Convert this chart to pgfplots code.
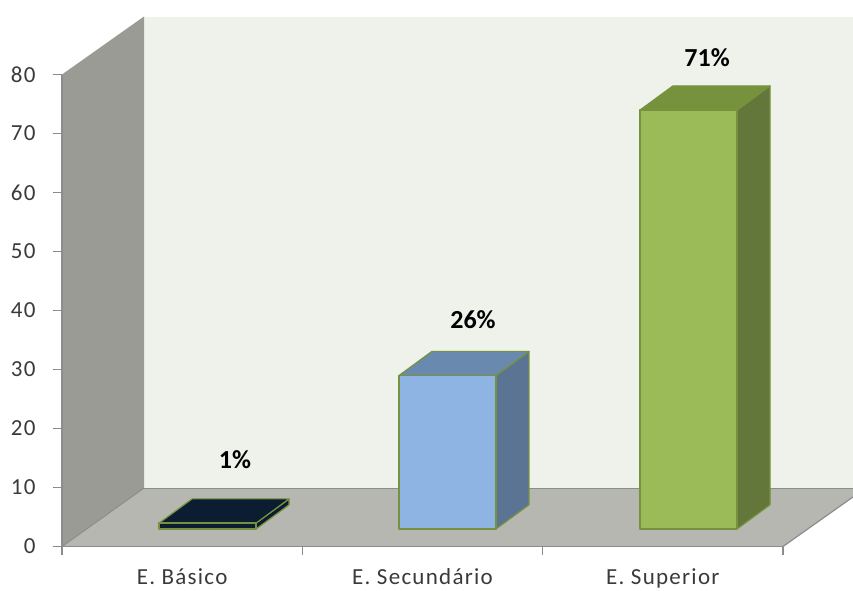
\documentclass[border=0pt]{standalone}
\usepackage{pgfplots}
\pgfplotsset{compat=1.18}
\usepackage{fontspec}
\setmainfont{Carlito}
\newfontfamily\ticksfont[LetterSpace=5.5]{Carlito}

\definecolor{wallback}{HTML}{EFF2EB}
\definecolor{wallside}{HTML}{999B94}
\definecolor{floorgrey}{HTML}{B5B7B0}
\definecolor{axisgrey}{HTML}{8C8C8C}
\definecolor{stubgrey}{HTML}{7A7A7A}
\definecolor{edgegreen}{HTML}{76923C}
\definecolor{txt}{HTML}{3A3A3A}
\definecolor{navy}{HTML}{0C1C31}
\definecolor{bluefront}{HTML}{8DB4E2}
\definecolor{bluetop}{HTML}{6A89AE}
\definecolor{blueside}{HTML}{5B7494}
\definecolor{greenfront}{HTML}{9BBB59}
\definecolor{greentop}{HTML}{76923C}
\definecolor{greenside}{HTML}{64773A}

% Depth of the bars, in axis units
\def\barw{0.4036}
\def\bardx{0.1373}
\def\bardy{4.1}
\def\barbase{2.97}
\def\edgew{2pt}

% \threedbar{left x}{value}{front}{top}{side}{edge}
\newcommand{\threedbar}[6]{%
  \pgfmathsetmacro{\xa}{#1}%
  \pgfmathsetmacro{\xb}{#1+\barw}%
  \pgfmathsetmacro{\xc}{#1+\barw+\bardx}%
  \pgfmathsetmacro{\xd}{#1+\bardx}%
  \pgfmathsetmacro{\yb}{\barbase}%
  \pgfmathsetmacro{\yt}{\barbase+#2}%
  \pgfmathsetmacro{\ybb}{\barbase+\bardy}%
  \pgfmathsetmacro{\ytt}{\barbase+#2+\bardy}%
  \addplot[fill=#5,draw=#6,line width=\edgew,line join=round] coordinates
    {(\xb,\yb) (\xc,\ybb) (\xc,\ytt) (\xb,\yt)} -- cycle;
  \addplot[fill=#4,draw=#6,line width=\edgew,line join=round] coordinates
    {(\xa,\yt) (\xb,\yt) (\xc,\ytt) (\xd,\ytt)} -- cycle;
  \addplot[fill=#3,draw=#6,line width=\edgew,line join=round] coordinates
    {(\xa,\yb) (\xb,\yb) (\xb,\yt) (\xa,\yt)} -- cycle;
}

\begin{document}
\begin{tikzpicture}
\path[use as bounding box] (0pt,0pt) rectangle (853pt,590pt);
\begin{axis}[
  at={(62pt,43.5pt)}, anchor=south west,
  scale only axis, width=721pt, height=472pt,
  xmin=0, xmax=3, ymin=0, ymax=80,
  clip=false, axis on top,
  axis x line*=bottom, axis y line*=left,
  axis line style={axisgrey,line width=1.2pt,-},
  tick style={draw=axisgrey,line width=1.2pt},
  tick align=outside,
  major tick length=8pt,
  xtick={0,1,2,3},
  x tick label as interval,
  xticklabels={E. Básico,E. Secundário,E. Superior},
  ytick={0,10,20,30,40,50,60,70,80},
  /pgf/number format/assume math mode=true,
  tick label style={font=\ticksfont\fontsize{23}{27}\selectfont,text=txt},
  xticklabel style={anchor=base,yshift=-30pt},
  yticklabel style={xshift=-15pt},
]
% chart box: back wall, side wall and floor
\addplot[fill=wallback,draw=none] coordinates
  {(0.3412,9.915) (3.2913,9.915) (3.2913,89.83) (0.3412,89.83)} -- cycle;
\addplot[fill=wallside,draw=none] coordinates
  {(0,0) (0.3412,9.915) (0.3412,89.83) (0,80)} -- cycle;
\addplot[fill=floorgrey,draw=none] coordinates
  {(0,0) (3,0) (3.2913,8.4) (3.2913,9.915) (0.3412,9.915)} -- cycle;
\addplot[axisgrey,line width=1pt] coordinates {(0.3412,9.915) (3.2913,9.915)};
\addplot[axisgrey,line width=1pt] coordinates {(0,0) (0.3412,9.915)};
\addplot[axisgrey,line width=1.2pt] coordinates {(3,0) (3.2913,8.4)};

% tick stubs on the value axis
\pgfplotsinvokeforeach{0,10,20,30,40,50,60,70,80}{
  \addplot[stubgrey,line width=1.6pt] coordinates {(-0.0375,#1) (0,#1)};
}

% bars
\threedbar{0.404}{1}{navy}{navy}{navy}{edgegreen}
\threedbar{1.402}{26}{bluefront}{bluetop}{blueside}{edgegreen}
\def\edgew{1.2pt}
\threedbar{2.405}{71}{greenfront}{greentop}{greenside}{edgegreen}

% value labels
\node[font=\fontsize{26}{29}\selectfont\bfseries,text=black] at (axis cs:0.720,14.7) {1\%};
\node[font=\fontsize{26}{29}\selectfont\bfseries,text=black] at (axis cs:1.710,38.4) {26\%};
\node[font=\fontsize{26}{29}\selectfont\bfseries,text=black] at (axis cs:2.684,82.8) {71\%};
\end{axis}
\end{tikzpicture}
\end{document}
